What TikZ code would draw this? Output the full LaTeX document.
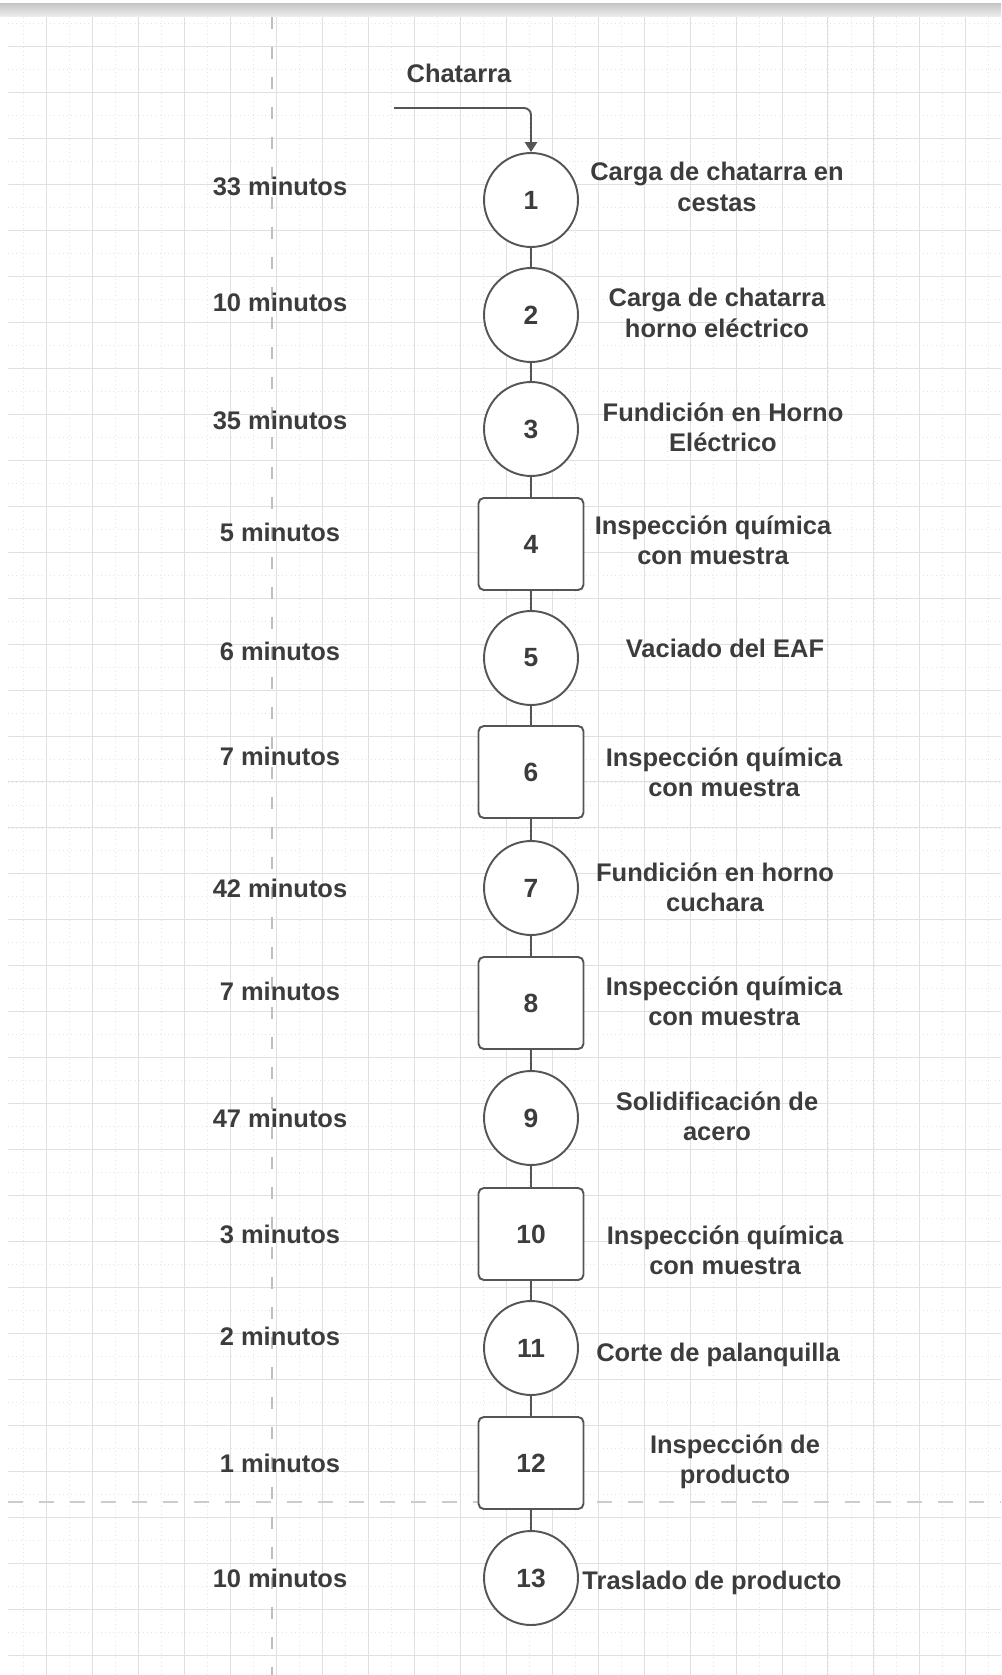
\documentclass[tikz,border=0pt]{standalone}
\usepackage{fontspec}
\setmainfont{Liberation Sans}
\usetikzlibrary{arrows.meta}

\definecolor{inkgray}{HTML}{3C3C3C}
\definecolor{linegray}{HTML}{555555}

\begin{document}
\begin{tikzpicture}[x=0.02cm, y=-0.02cm,
		op_style/.style={circle,draw=linegray,line width=1.1pt,fill=white,minimum size=1.88cm,inner sep=0pt,font=\fontsize{15}{17}\selectfont\bfseries,text=inkgray},
		insp_style/.style={rectangle,rounded corners=3pt,draw=linegray,line width=1.1pt,fill=white,minimum width=2.1cm,minimum height=1.84cm,inner sep=0pt,font=\fontsize{15}{17}\selectfont\bfseries,text=inkgray},
		desc_style/.style={align=center,inner sep=0pt,font=\fontsize{14.5}{17.3}\selectfont\bfseries,text=inkgray},
		time_style/.style={inner sep=0pt,font=\fontsize{14.5}{17.3}\selectfont\bfseries,text=inkgray},
		edge_style/.style={draw=linegray,line width=1.1pt}]

	% background sheet
	\useasboundingbox (0,0) rectangle (1001,1675);
	\fill[white] (0,0) rectangle (1001,1675);
	\shade[top color=black!22,bottom color=black!6] (0,4) rectangle (1001,17);
	\draw[black!10,dotted,step=0.46cm] (8,17) grid (1001,1675);
	\draw[black!12,step=0.92cm] (8,17) grid (1001,1675);
	\draw[black!25,line width=1.2pt,dash pattern=on 0.24cm off 0.36cm] (272,17) -- (272,1675);
	\draw[black!20,line width=1.2pt,dash pattern=on 0.3cm off 0.32cm] (8,1502) -- (1001,1502);

	% process steps
	\node[op_style] (n1) at (531,200) {1};
	\node[op_style] (n2) at (531,315) {2};
	\node[op_style] (n3) at (531,429) {3};
	\node[insp_style] (n4) at (531,544) {4};
	\node[op_style] (n5) at (531,658) {5};
	\node[insp_style] (n6) at (531,772) {6};
	\node[op_style] (n7) at (531,888) {7};
	\node[insp_style] (n8) at (531,1003) {8};
	\node[op_style] (n9) at (531,1118) {9};
	\node[insp_style] (n10) at (531,1234) {10};
	\node[op_style] (n11) at (531,1348) {11};
	\node[insp_style] (n12) at (531,1463) {12};
	\node[op_style] (n13) at (531,1578) {13};

	% descriptions
	\node[desc_style] (d1) at (717,187) {Carga de chatarra en\\cestas};
	\node[desc_style] (d2) at (717,313) {Carga de chatarra\\horno eléctrico};
	\node[desc_style] (d3) at (723,427) {Fundición en Horno\\Eléctrico};
	\node[desc_style] (d4) at (713,540) {Inspección química\\con muestra};
	\node[desc_style] (d5) at (725,648) {Vaciado del EAF};
	\node[desc_style] (d6) at (724,772) {Inspección química\\con muestra};
	\node[desc_style] (d7) at (715,887) {Fundición en horno\\cuchara};
	\node[desc_style] (d8) at (724,1001) {Inspección química\\con muestra};
	\node[desc_style] (d9) at (717,1116) {Solidificación de\\acero};
	\node[desc_style] (d10) at (725,1250) {Inspección química\\con muestra};
	\node[desc_style] (d11) at (718,1355) {Corte de palanquilla};
	\node[desc_style] (d12) at (735,1462) {Inspección de\\producto};
	\node[desc_style] (d13) at (712,1583) {Traslado de producto};

	% times
	\node[time_style] (t1) at (280,186) {33 minutos};
	\node[time_style] (t2) at (280,302) {10 minutos};
	\node[time_style] (t3) at (280,420) {35 minutos};
	\node[time_style] (t4) at (280,532) {5 minutos};
	\node[time_style] (t5) at (280,651) {6 minutos};
	\node[time_style] (t6) at (280,756) {7 minutos};
	\node[time_style] (t7) at (280,888) {42 minutos};
	\node[time_style] (t8) at (280,991) {7 minutos};
	\node[time_style] (t9) at (280,1118) {47 minutos};
	\node[time_style] (t10) at (280,1234) {3 minutos};
	\node[time_style] (t11) at (280,1336) {2 minutos};
	\node[time_style] (t12) at (280,1463) {1 minutos};
	\node[time_style] (t13) at (280,1578) {10 minutos};

	% input
	\node[time_style] (chat_lbl) at (459,73) {Chatarra};
	\coordinate (chat) at (394,108);
	\draw[edge_style,rounded corners=4pt,-{Triangle[length=5.7pt,width=7pt]}] (chat) -- (chat -| n1) -- (n1);

	\draw[edge_style] (n1) -- (n2);
	\draw[edge_style] (n2) -- (n3);
	\draw[edge_style] (n3) -- (n4);
	\draw[edge_style] (n4) -- (n5);
	\draw[edge_style] (n5) -- (n6);
	\draw[edge_style] (n6) -- (n7);
	\draw[edge_style] (n7) -- (n8);
	\draw[edge_style] (n8) -- (n9);
	\draw[edge_style] (n9) -- (n10);
	\draw[edge_style] (n10) -- (n11);
	\draw[edge_style] (n11) -- (n12);
	\draw[edge_style] (n12) -- (n13);
\end{tikzpicture}
\end{document}
